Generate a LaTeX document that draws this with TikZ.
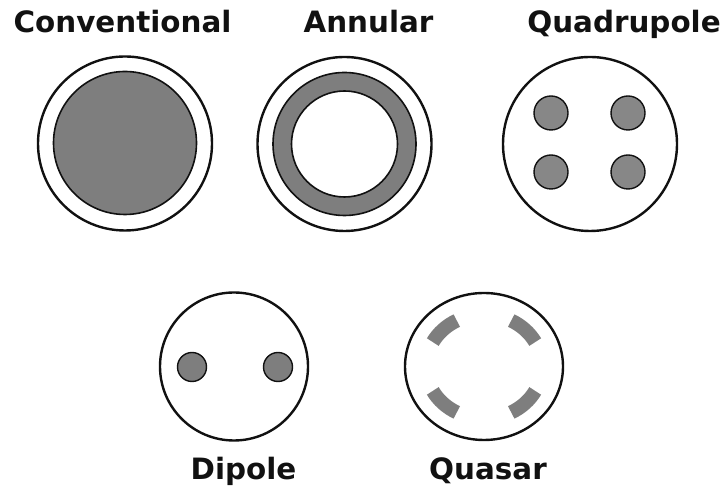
\documentclass[tikz,border=0pt]{standalone}
\usepackage{fontspec}
\setmainfont{DejaVu Sans}
\usetikzlibrary{shapes.geometric}
\definecolor{ink}{HTML}{111111}
\definecolor{lit}{HTML}{7E7E7E}
\definecolor{litlo}{HTML}{878787}
\tikzset{
  % ---- pupil outlines --------------------------------------------
  pupil/.style    = {circle, draw=ink, line width=2.4bp, fill=white,
                     inner sep=0pt, minimum size=174bp},
  smallpupil/.style = {circle, draw=ink, line width=2.4bp, fill=white,
                     inner sep=0pt, minimum size=148bp},
  ovalpupil/.style = {ellipse, draw=ink, line width=2.4bp, fill=white,
                     inner sep=0pt, minimum width=158bp, minimum height=147bp},
  % ---- illuminated regions ---------------------------------------
  disc/.style     = {circle, draw=ink, line width=1.6bp, fill=lit,
                     inner sep=0pt, minimum size=143bp},
  hole/.style     = {circle, draw=ink, line width=1.6bp, fill=white,
                     inner sep=0pt, minimum size=106bp},
  pole/.style     = {circle, draw=ink, line width=1.4bp, fill=litlo,
                     inner sep=0pt, minimum size=34bp},
  dipole/.style   = {circle, draw=ink, line width=1.4bp, fill=lit,
                     inner sep=0pt, minimum size=29bp},
  quad/.style     = {draw=lit, line width=14bp},
  % ---- captions --------------------------------------------------
  lbl/.style      = {anchor=base, inner sep=0pt, text=ink,
                     font=\bfseries\fontsize{29.5}{30}\selectfont},
}

\begin{document}
\begin{tikzpicture}[x=1bp,y=1bp]
  \useasboundingbox[fill=white] (0,0) rectangle (725,490);
  % top row
  \node[pupil] (conv) at (125,346.5) {};
  \node[disc] (convD) at (125,347) {};
  \node[pupil] (ann) at (344.5,346) {};
  \node[disc] (annD) at (344.5,346) {};
  \node[hole] (annH) at (344.5,346) {};
  \node[pupil] (quad) at (590,346) {};
  \node[pole] (quadA) at (551,377) {};
  \node[pole] (quadB) at (628,377) {};
  \node[pole] (quadC) at (551,318) {};
  \node[pole] (quadD) at (628,318) {};
  % bottom row
  \node[smallpupil] (dip) at (234,123.5) {};
  \node[dipole] (dipL) at (192,123) {};
  \node[dipole] (dipR) at (278,123) {};
  \node[ovalpupil] (qsr) at (484,123.5) {};
  \draw[quad] (qsr.center) ++(28:58 and 52) arc[start angle=28, end angle=62, x radius=58, y radius=52];
  \draw[quad] (qsr.center) ++(118:58 and 52) arc[start angle=118, end angle=152, x radius=58, y radius=52];
  \draw[quad] (qsr.center) ++(208:58 and 52) arc[start angle=208, end angle=242, x radius=58, y radius=52];
  \draw[quad] (qsr.center) ++(298:58 and 52) arc[start angle=298, end angle=332, x radius=58, y radius=52];
  % captions
  \node[lbl] (convT) at (122.5,457) {Conventional};
  \node[lbl] (annT) at (368.5,457) {Annular};
  \node[lbl] (quadT) at (624,457) {Quadrupole};
  \node[lbl] (dipT) at (243.5,10) {Dipole};
  \node[lbl] (qsrT) at (488,10) {Quasar};
\end{tikzpicture}
\end{document}
